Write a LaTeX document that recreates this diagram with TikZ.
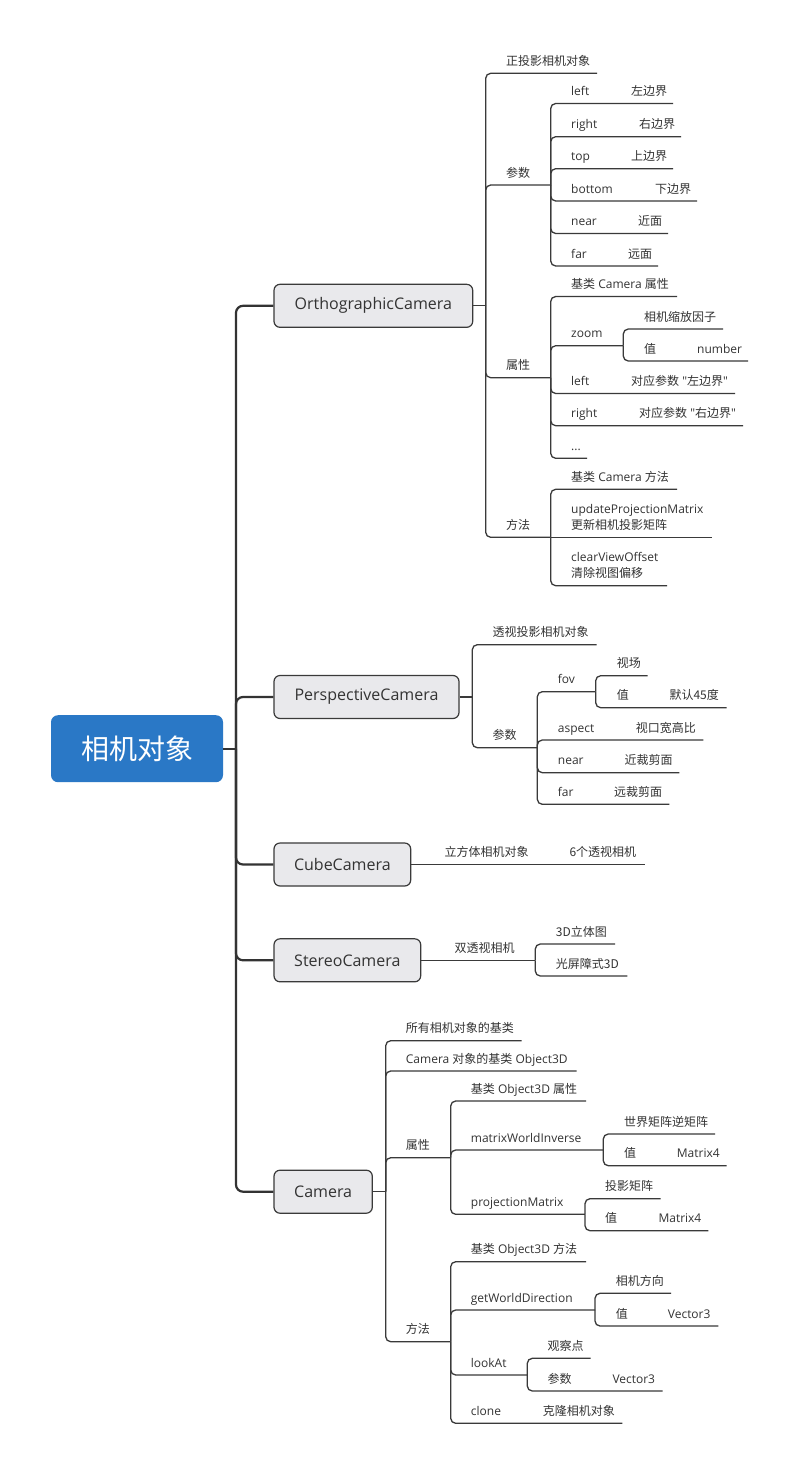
\documentclass[tikz,border=0pt]{standalone}
\usepackage{fontspec}
\setmainfont{Open Sans}
\newfontfamily\zh{Noto Sans CJK SC}
% same face without the TeX quote mapping, for straight quotes
\newfontfamily\plainq{Open Sans}
\newcommand\sq{{\plainq "}}
\definecolor{ink}{HTML}{333333}
\definecolor{wire}{HTML}{3A3A3A}
\definecolor{boxfill}{HTML}{E9E9EC}
\definecolor{rootblue}{HTML}{2A78C6}
% label sitting on its underline; #3 is the underline's y
\newcommand\val[4]{\node[lab] (#1) at (#2,#3) {#4};}
% label with underline, joined to its parent's junction point #6
\newcommand\leaf[6]{%
  \node[lab] (#1) at (#2,#3) {#5};
  \coordinate (#1-e) at (#4,#3);
  \draw[br] (#6) |- (#1-e);}
\begin{document}
\begin{tikzpicture}[x=1pt,y=-1pt,
  lab/.style={anchor=base west, inner sep=0pt, text=ink, yshift=8pt,
    font=\fontsize{12}{14}\selectfont},
  br/.style={draw=wire, line width=1.3pt, rounded corners=5pt},
  trunkline/.style={draw=ink, line width=2.2pt, rounded corners=7pt},
  catbox/.style={draw=wire, line width=1.2pt, fill=boxfill, rounded corners=6pt,
    minimum height=43pt, inner sep=0pt, text=ink, font=\fontsize{16}{19}\selectfont},
  rootbox/.style={fill=rootblue, rounded corners=7pt, minimum width=172pt,
    minimum height=67pt, inner sep=0pt, text=white, font=\zh\fontsize{28}{32}\selectfont}]
\fill[white] (0,0) rectangle (800,1475);
\useasboundingbox (0,0) rectangle (800,1475);

% root and first level
\node[rootbox] (root) at (137,748.7) {相机对象};
\node[catbox, minimum width=198.7pt] (ortho) at (373.35,305.8) {OrthographicCamera};
\node[catbox, minimum width=185pt] (persp) at (366.5,697) {PerspectiveCamera};
\node[catbox, minimum width=136.7pt] (cube) at (342.35,864.5) {CubeCamera};
\node[catbox, minimum width=146.7pt] (stereo) at (347.35,960.3) {StereoCamera};
\node[catbox, minimum width=98.3pt] (cam) at (323.15,1191.7) {Camera};

\coordinate (trunk) at (236,748.7);
\draw[trunkline] (root.east) -- (trunk);
\foreach \b in {ortho,persp,cube,stereo,cam} \draw[trunkline] (trunk) |- (\b.west);

% OrthographicCamera
\coordinate (oJ) at (485.7,305.8);
\draw[br] (ortho.east) -- (oJ);
\leaf{oDesc}{506}{73.3}{597}{\zh 正投影相机对象}{oJ}
\leaf{oPar}{506}{185}{550.7}{\zh 参数}{oJ}
\leaf{oAttr}{506}{377.7}{550.7}{\zh 属性}{oJ}
\leaf{oMeth}{506}{537.3}{550.7}{\zh 方法}{oJ}

\leaf{pl}{571}{103.5}{673}{left}{oPar-e}\val{plv}{631}{103.5}{\zh 左边界}
\leaf{pr}{571}{136.7}{681}{right}{oPar-e}\val{prv}{639}{136.7}{\zh 右边界}
\leaf{pt}{571}{168.7}{673}{top}{oPar-e}\val{ptv}{631}{168.7}{\zh 上边界}
\leaf{pb}{571}{201}{697}{bottom}{oPar-e}\val{pbv}{655}{201}{\zh 下边界}
\leaf{pn}{571}{233.5}{668}{near}{oPar-e}\val{pnv}{638}{233.5}{\zh 近面}
\leaf{pf}{571}{266}{658}{far}{oPar-e}\val{pfv}{628}{266}{\zh 远面}

\leaf{aBase}{571}{296.5}{677}{{\zh 基类} Camera {\zh 属性}}{oAttr-e}
\leaf{aZoom}{571}{345.7}{623.3}{zoom}{oAttr-e}
\leaf{aZd}{644}{329}{723}{\zh 相机缩放因子}{aZoom-e}
\leaf{aZv}{644}{361}{748}{\zh 值}{aZoom-e}\val{aZvv}{697}{361}{number}
\leaf{aLeft}{571}{393.5}{735}{left}{oAttr-e}\val{aLeftv}{631}{393.5}{{\zh 对应参数} \sq{\zh 左边界}\sq}
\leaf{aRight}{571}{425.7}{743}{right}{oAttr-e}\val{aRightv}{639}{425.7}{{\zh 对应参数} \sq{\zh 右边界}\sq}
\leaf{aMore}{571}{458.3}{587}{...}{oAttr-e}

\leaf{mBase}{571}{489.3}{677}{{\zh 基类} Camera {\zh 方法}}{oMeth-e}
\val{mUpdName}{571}{521}{updateProjectionMatrix}
\val{mUpd}{571}{537.3}{\zh 更新相机投影矩阵}
\coordinate (mUpd-e) at (712,537.3);
\draw[br] (oMeth-e) -- (mUpd-e);
\val{mClrName}{571}{569.4}{clearViewOffset}
\leaf{mClr}{571}{585.7}{667}{\zh 清除视图偏移}{oMeth-e}

% PerspectiveCamera
\coordinate (peJ) at (472.3,697);
\draw[br] (persp.east) -- (peJ);
\leaf{peDesc}{492.3}{644.7}{596.7}{\zh 透视投影相机对象}{peJ}
\leaf{pePar}{492.3}{747.7}{537.3}{\zh 参数}{peJ}
\leaf{peFov}{557.7}{691.7}{595.7}{fov}{pePar-e}
\leaf{peFovd}{616.7}{675.7}{647.7}{\zh 视场}{peFov-e}
\leaf{peFovv}{616.7}{707.7}{726.7}{\zh 值}{peFov-e}\val{peFovvv}{669.3}{707.7}{\zh 默认45度}
\leaf{peAsp}{557.7}{740}{703.3}{aspect}{pePar-e}\val{peAspv}{635.7}{740}{\zh 视口宽高比}
\leaf{peNear}{557.7}{772.7}{679.3}{near}{pePar-e}\val{peNearv}{624.3}{772.7}{\zh 近裁剪面}
\leaf{peFar}{557.7}{804.3}{669.3}{far}{pePar-e}\val{peFarv}{614}{804.3}{\zh 远裁剪面}

% CubeCamera
\coordinate (cubeE) at (645,864.5);
\draw[br] (cube.east) -- (cubeE);
\val{cuDesc}{444.3}{864.5}{\zh 立方体相机对象}
\val{cuVal}{569.3}{864.5}{\zh 6个透视相机}

% StereoCamera
\coordinate (stJ) at (535.3,960.3);
\draw[br] (stereo.east) -- (stJ);
\val{stDesc}{454.3}{960.3}{\zh 双透视相机}
\leaf{st3d}{555.7}{944}{615}{\zh 3D立体图}{stJ}
\leaf{stBar}{555.7}{976}{627.3}{\zh 光屏障式3D}{stJ}

% Camera
\coordinate (camJ) at (385.7,1191.7);
\draw[br] (cam.east) -- (camJ);
\leaf{cBase}{405.7}{1040.7}{521.7}{\zh 所有相机对象的基类}{camJ}
\leaf{cObj}{405.7}{1071}{576.7}{Camera {\zh 对象的基类} Object3D}{camJ}
\leaf{cAttr}{405.7}{1157.7}{450.7}{\zh 属性}{camJ}
\leaf{cMeth}{405.7}{1341.7}{450.7}{\zh 方法}{camJ}

\leaf{caBase}{470.7}{1101}{586}{{\zh 基类} Object3D {\zh 属性}}{cAttr-e}
\leaf{caMWI}{470.7}{1150}{603.3}{matrixWorldInverse}{cAttr-e}
\leaf{caMWId}{624}{1134}{715}{\zh 世界矩阵逆矩阵}{caMWI-e}
\leaf{caMWIv}{624}{1165.7}{726.7}{\zh 值}{caMWI-e}\val{caMWIvv}{676.7}{1165.7}{Matrix4}
\leaf{caPM}{470.7}{1214.3}{585}{projectionMatrix}{cAttr-e}
\leaf{caPMd}{605}{1198.7}{660.7}{\zh 投影矩阵}{caPM-e}
\leaf{caPMv}{605}{1230.7}{708.3}{\zh 值}{caPM-e}\val{caPMvv}{658.3}{1230.7}{Matrix4}

\leaf{cmBase}{470.7}{1261.7}{586}{{\zh 基类} Object3D {\zh 方法}}{cMeth-e}
\leaf{cmGWD}{470.7}{1310}{595}{getWorldDirection}{cMeth-e}
\leaf{cmGWDd}{615.7}{1293.3}{671}{\zh 相机方向}{cmGWD-e}
\leaf{cmGWDv}{615.7}{1326}{718.3}{\zh 值}{cmGWD-e}\val{cmGWDvv}{667.7}{1326}{Vector3}
\leaf{cmLA}{470.7}{1375}{527.3}{lookAt}{cMeth-e}
\leaf{cmLAd}{547.3}{1358.3}{590.7}{\zh 观察点}{cmLA-e}
\leaf{cmLAp}{547.3}{1391}{662.7}{\zh 参数}{cmLA-e}\val{cmLApv}{612.3}{1391}{Vector3}
\leaf{cmClone}{470.7}{1423.3}{622.3}{clone}{cMeth-e}\val{cmClonev}{542.7}{1423.3}{\zh 克隆相机对象}
\end{tikzpicture}
\end{document}
